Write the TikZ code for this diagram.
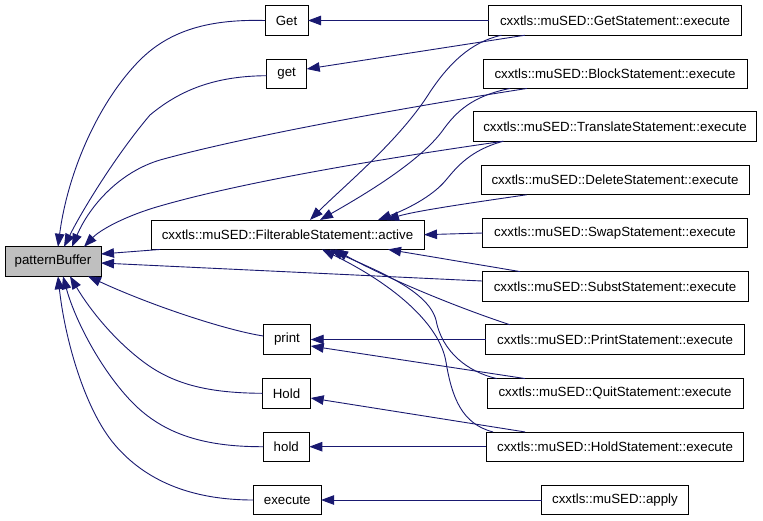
\documentclass[tikz,border=0pt]{standalone}
\usepackage{fontspec}
\setmainfont{Liberation Sans}
\usetikzlibrary{arrows.meta,calc}
\definecolor{edgeblue}{HTML}{191970}
\definecolor{pbgray}{HTML}{BFBFBF}
\begin{document}
\begin{tikzpicture}[x=1pt,y=-1pt,
  box/.style={draw=black,line width=0.9pt,minimum height=29.5pt,inner sep=0pt,outer sep=0pt,font=\fontsize{13.3}{15}\selectfont,fill=white},
  edge/.style={draw=edgeblue,line width=0.9pt,-{Triangle[length=13pt,width=9.5pt]}}]
\useasboundingbox (0,0) rectangle (763,520);
% left and middle
\node[box,minimum width=96pt,fill=pbgray] (pb) at (53,261.5) {patternBuffer};
\node[box,minimum width=273pt] (filt) at (287.5,234.7) {cxxtls::muSED::FilterableStatement::active};
\node[box,minimum width=43pt] (nGet) at (286.5,20.5) {Get};
\node[box,minimum width=40pt] (nget) at (286.7,73.7) {get};
\node[box,minimum width=47.4pt] (nprint) at (287,339.5) {print};
\node[box,minimum width=48.4pt] (nHold) at (286.5,393.3) {Hold};
\node[box,minimum width=46pt] (nhold) at (286.3,446.7) {hold};
\node[box,minimum width=67.7pt] (nexec) at (287.2,500) {execute};
% right column
\node[box,minimum width=252.4pt] (gs) at (615,20.5) {cxxtls::muSED::GetStatement::execute};
\node[box,minimum width=264pt] (bs) at (615,73.7) {cxxtls::muSED::BlockStatement::execute};
\node[box,minimum width=283.4pt] (ts) at (615,126.5) {cxxtls::muSED::TranslateStatement::execute};
\node[box,minimum width=268pt] (ds) at (615,180) {cxxtls::muSED::DeleteStatement::execute};
\node[box,minimum width=264.4pt] (ss) at (615,233) {cxxtls::muSED::SwapStatement::execute};
\node[box,minimum width=266pt] (sub) at (615,286.3) {cxxtls::muSED::SubstStatement::execute};
\node[box,minimum width=259pt] (ps) at (615,339.5) {cxxtls::muSED::PrintStatement::execute};
\node[box,minimum width=256pt] (qs) at (615,393.3) {cxxtls::muSED::QuitStatement::execute};
\node[box,minimum width=257.3pt] (hs) at (615,446.7) {cxxtls::muSED::HoldStatement::execute};
\node[box,minimum width=146.6pt] (ap) at (615,500) {cxxtls::muSED::apply};
% edges right -> middle
\draw[edge] (gs.west) -- (nGet.east);
\draw[edge] ($(gs.south west)+(36,0)$) -- ($(nget.east)+(0,-4.7)$);
\draw[edge] ($(gs.south west)+(12.7,0)$) .. controls (470,42) and (448,65) .. (430,92) .. controls (400,140) and (345,185) .. ($(filt.north west)+(159,0)$);
\draw[edge] ($(bs.south west)+(27,0)$) .. controls (472,96) and (456,112) .. (443,130) .. controls (420,162) and (362,196) .. ($(filt.north west)+(169,0)$);
\draw[edge] ($(ts.south west)+(30,0)$) .. controls (470,150) and (456,168) .. (446,180) .. controls (432,197) and (405,210) .. ($(filt.north west)+(227,0)$);
\draw[edge] ($(ds.south west)+(45.7,0)$) .. controls (470,203) and (415,211) .. ($(filt.north west)+(235,0)$);
\draw[edge] (ss.west) -- (filt.east);
\draw[edge] ($(sub.north west)+(38,0)$) -- ($(filt.south west)+(237,0)$);
\draw[edge] ($(ps.north west)+(24.5,0)$) .. controls (450,305) and (380,275) .. ($(filt.south west)+(184,0)$);
\draw[edge] ($(qs.north west)+(9.7,0)$) .. controls (468,372) and (442,352) .. (436,320) .. controls (428,290) and (375,270) .. ($(filt.south west)+(179,0)$);
\draw[edge] ($(hs.north west)+(6.7,0)$) .. controls (462,424) and (452,398) .. (446,362) .. controls (440,325) and (395,285) .. ($(filt.south west)+(171,0)$);
\draw[edge] (ps.west) -- (nprint.east);
\draw[edge] ($(qs.north west)+(38,0)$) -- ($(nprint.east)+(0,6.5)$);
\draw[edge] ($(hs.north west)+(38.7,0)$) -- ($(nHold.east)+(0,4.7)$);
\draw[edge] (hs.west) -- (nhold.east);
\draw[edge] (ap.west) -- (nexec.east);
% edges into patternBuffer
\draw[edge] ($(sub.west)+(0,-5.3)$) -- ($(pb.east)+(0,1.5)$);
\draw[edge] ($(filt.south west)+(9,0)$) -- ($(pb.east)+(0,-7.5)$);
\draw[edge] (nGet.west) .. controls (210,19) and (170,30) .. (140,60) .. controls (100,100) and (68,170) .. ($(pb.north west)+(53,0)$);
\draw[edge] ($(nget.west)+(0,2)$) .. controls (215,76) and (180,90) .. (150,115) .. controls (120,150) and (85,205) .. ($(pb.north west)+(59,0)$);
\draw[edge] ($(bs.south west)+(44,0)$) .. controls (420,105) and (250,135) .. (160,160) .. controls (120,172) and (90,205) .. ($(pb.north west)+(67,0)$);
\draw[edge] ($(ts.south west)+(30,0)$) .. controls (400,156) and (250,180) .. (160,206) .. controls (125,216) and (100,230) .. ($(pb.north west)+(79,0)$);
\draw[edge] ($(nprint.west)+(0,-3.5)$) .. controls (225,330) and (150,305) .. ($(pb.south west)+(83,0)$);
\draw[edge] (nHold.west) .. controls (210,393) and (175,385) .. (145,363) .. controls (115,341) and (90,310) .. ($(pb.south west)+(65,0)$);
\draw[edge] (nhold.west) .. controls (200,447) and (160,432) .. (130,400) .. controls (100,368) and (75,320) .. ($(pb.south west)+(58,0)$);
\draw[edge] (nexec.west) .. controls (190,500) and (145,480) .. (115,445) .. controls (85,410) and (65,340) .. ($(pb.south west)+(53,0)$);
\end{tikzpicture}
\end{document}
